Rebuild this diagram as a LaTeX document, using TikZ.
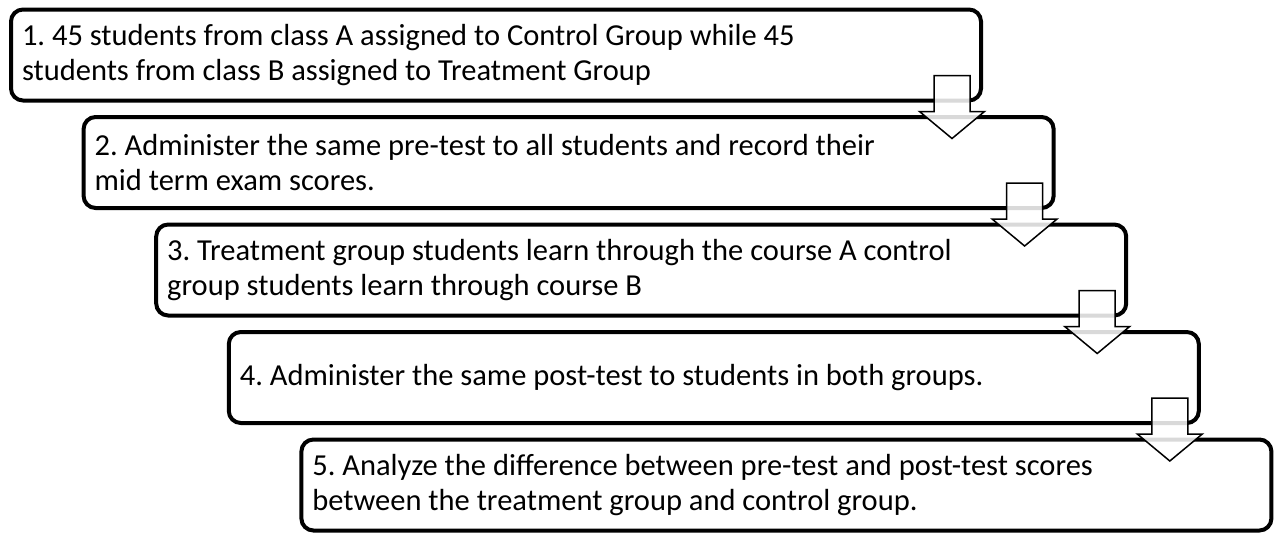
\documentclass[tikz,border=0pt]{standalone}
\usepackage{fontspec}
\setmainfont{Carlito}

\tikzset{
  pics/downarrow/.style={code={
    \draw[flowarrow] (-18,27) -- (18,27) -- (18,-9) -- (32.5,-9)
      -- (0,-36) -- (-32.5,-9) -- (-18,-9) -- cycle;
  }}
}

\begin{document}
\frenchspacing
\begin{tikzpicture}[x=1pt,y=1pt,
    stepbox/.style={draw, line width=4pt, rounded corners=12pt, fill=white,
      minimum width=970pt, minimum height=91pt, text width=948pt,
      inner xsep=11pt, align=flush left, font=\fontsize{30.5}{34.5}\selectfont},
    flowarrow/.style={draw, line width=1.5pt, fill=white, fill opacity=0.85,
      line join=miter}]
    \useasboundingbox (0,0) rectangle (1276,-533);
    \node[stepbox] (s1) at (496,-55) {1. 45 students from class A assigned to Control Group while 45\\
      students from class B assigned to Treatment Group};
    \node[stepbox] (s2) at (568.6,-162.5) {2. Administer the same pre-test to all students and record their\\
      mid term exam scores.};
    \node[stepbox] (s3) at (641.2,-270) {3. Treatment group students learn through the course A control\\
      group students learn through course B};
    \node[stepbox] (s4) at (713.8,-377.5) {4. Administer the same post-test to students in both groups.};
    \node[stepbox] (s5) at (786.4,-485) {5. Analyze the difference between pre-test and post-test scores\\
      between the treatment group and control group.};
    % arrows go over the bottom edge of each step
    \foreach \s in {s1,s2,s3,s4}
      \pic at ([xshift=-31pt]\s.south east) {downarrow};
\end{tikzpicture}
\end{document}
